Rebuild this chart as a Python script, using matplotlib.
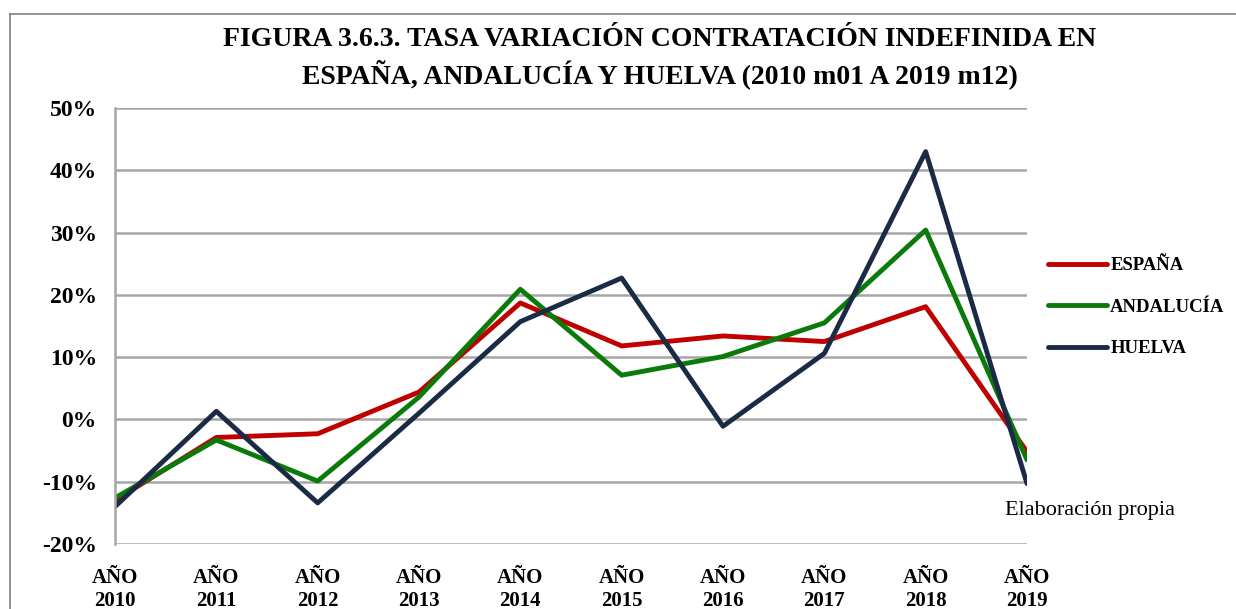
import matplotlib
matplotlib.use('Agg')
import matplotlib.pyplot as plt
from matplotlib.lines import Line2D
from matplotlib.ticker import FuncFormatter

years = ['AÑO\n2010', 'AÑO\n2011', 'AÑO\n2012', 'AÑO\n2013', 'AÑO\n2014',
         'AÑO\n2015', 'AÑO\n2016', 'AÑO\n2017', 'AÑO\n2018', 'AÑO\n2019']
espana = [-13.0, -2.9, -2.3, 4.4, 18.7, 11.8, 13.4, 12.5, 18.1, -5.2]
andalucia = [-12.6, -3.3, -9.9, 3.6, 20.9, 7.1, 10.1, 15.5, 30.4, -6.5]
huelva = [-14.0, 1.3, -13.4, 1.0, 15.7, 22.7, -1.1, 10.6, 43.0, -10.3]

plt.rcParams['font.family'] = ['Liberation Serif', 'DejaVu Serif']

fig = plt.figure(figsize=(12.36, 6.09), dpi=100)
ax = fig.add_axes([115 / 1236, 1 - 544 / 609, 912 / 1236, 436 / 609])

x = list(range(len(years)))
ax.plot(x, espana, color='#C00000', lw=3.5, label='ESPAÑA', solid_capstyle='round')
ax.plot(x, andalucia, color='#0A7A0A', lw=3.5, label='ANDALUCÍA', solid_capstyle='round')
ax.plot(x, huelva, color='#1C2B45', lw=3.5, label='HUELVA', solid_capstyle='round')

ax.set_xlim(0, len(years) - 1)
ax.set_ylim(-20, 50)
ax.set_yticks(range(-20, 51, 10))
ax.yaxis.set_major_formatter(FuncFormatter(lambda v, p: '%d%%' % v))
ax.set_xticks(x)
ax.set_xticklabels(years, fontweight='bold', fontsize=15, linespacing=1.2)
for t in ax.get_yticklabels():
    t.set_fontweight('bold')
    t.set_fontsize(17)
ax.tick_params(axis='both', length=0)
ax.tick_params(axis='y', pad=13)
ax.tick_params(axis='x', pad=17)
ax.grid(axis='y', color='#A6A6A6', lw=1.8)
ax.set_axisbelow(True)
for s in ['top', 'right', 'bottom']:
    ax.spines[s].set_visible(False)
ax.spines['left'].set_color('#A6A6A6')
ax.spines['left'].set_linewidth(1.8)

leg = ax.legend(loc='center left', bbox_to_anchor=(1039 / 1236, 1 - 307 / 609),
                bbox_transform=fig.transFigure, frameon=False, borderpad=0,
                handlelength=3.1, handletextpad=0.2, labelspacing=1.3,
                prop={'weight': 'bold', 'size': 13.5})

fig.text(1005 / 1236, 1 - 511 / 609, 'Elaboración propia', fontsize=16,
         ha='left', va='center')

fig.text(660 / 1236, 1 - 58 / 609,
         'FIGURA 3.6.3. TASA VARIACIÓN CONTRATACIÓN INDEFINIDA EN\n'
         'ESPAÑA, ANDALUCÍA Y HUELVA (2010 m01 A 2019 m12)',
         ha='center', va='center', fontsize=20, fontweight='bold', linespacing=1.3)

# marco exterior
fig.add_artist(Line2D([10 / 1236, 10 / 1236], [0, 1 - 14 / 609], color='#808080', lw=1.2))
fig.add_artist(Line2D([10 / 1236, 1], [1 - 14 / 609, 1 - 14 / 609], color='#808080', lw=1.2))

fig.savefig('out.png', dpi=100)
